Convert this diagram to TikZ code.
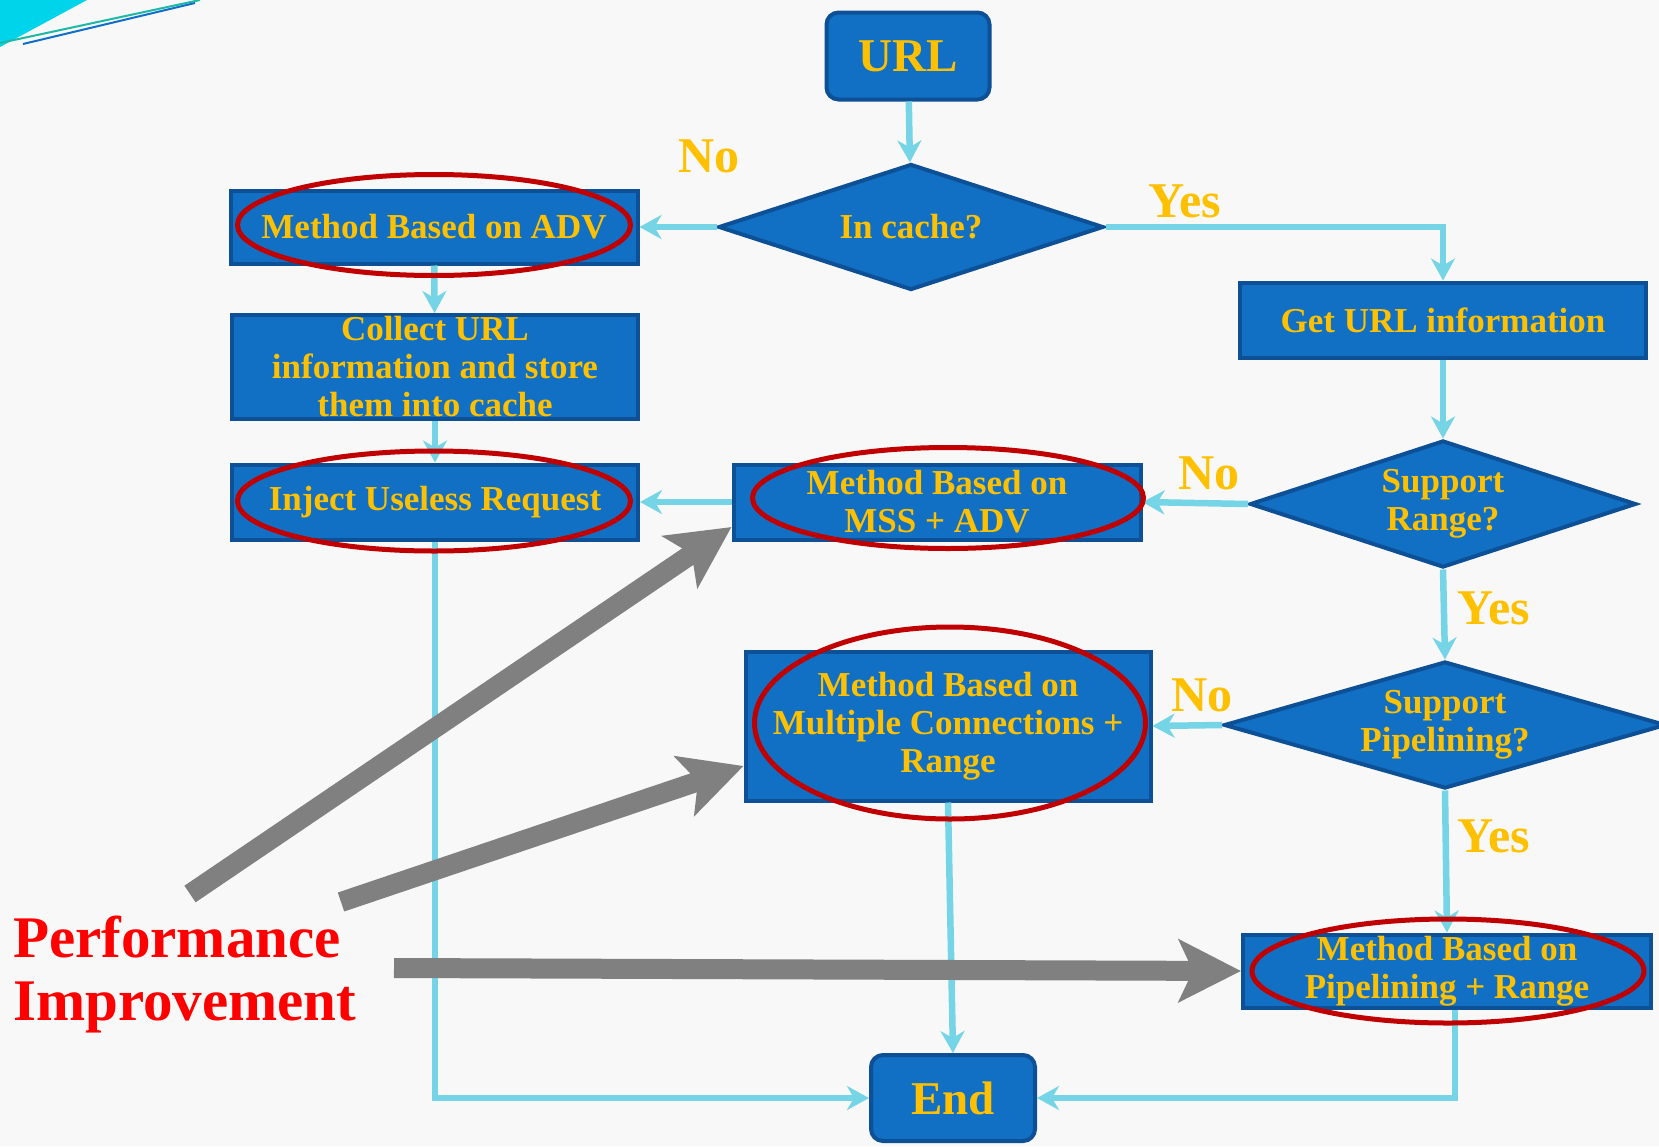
\documentclass[tikz,border=0pt]{standalone}
\usepackage{fontspec}
\setmainfont{Liberation Serif}
\usetikzlibrary{shapes.geometric, arrows.meta}
\definecolor{boxblue}{RGB}{17,112,196}
\definecolor{edgeblue}{RGB}{13,80,150}
\definecolor{labelgold}{RGB}{255,192,0}
\definecolor{flowcyan}{RGB}{117,213,230}
\definecolor{ringred}{RGB}{192,0,0}
\definecolor{hintgray}{RGB}{128,128,128}
\definecolor{perfred}{RGB}{255,0,0}
\definecolor{paper}{RGB}{248,248,248}
\definecolor{swooshcyan}{RGB}{0,212,235}
\definecolor{swooshteal}{RGB}{30,185,165}

\begin{document}
\begin{tikzpicture}[
    x=1pt, y=-1pt,
    every node/.style={font=\bfseries},
    process/.style={rectangle, draw=edgeblue, fill=boxblue, line width=4pt,
                    text=labelgold, align=center, inner sep=0pt,
                    font=\fontsize{35}{38}\selectfont\bfseries},
    terminal/.style={process, rounded corners=12pt,
                     font=\fontsize{47}{52}\selectfont\bfseries},
    decision/.style={diamond, aspect=3.4, draw=edgeblue, fill=boxblue, line width=4pt,
                     text=labelgold, align=center, inner sep=0pt,
                     font=\fontsize{35}{38}\selectfont\bfseries},
    ring/.style={ellipse, draw=ringred, line width=5pt, inner sep=0pt},
    answer/.style={text=labelgold, inner sep=0pt, font=\fontsize{50}{55}\selectfont\bfseries},
    flow/.style={-{Stealth[length=22pt, width=24pt, inset=7pt]}, draw=flowcyan, line width=6.5pt},
    boost/.style={-{Stealth[length=62pt, width=62pt, inset=14pt]}, draw=hintgray, line width=20pt}
]

% Page
\fill [paper] (0,0) rectangle (1659,1146);
\useasboundingbox (0,0) rectangle (1659,1146);
\fill [swooshcyan] (0,0) -- (87,0) -- (0,47) -- cycle;
\draw [swooshteal, line width=2pt] (0,43) -- (200,0);
\draw [swooshteal!60!blue, line width=2pt] (23,44) -- (195,3);

% Start and end
\node (url) [terminal, minimum width=163pt, minimum height=87pt] at (908,56) {URL};
\node (end) [terminal, minimum width=164pt, minimum height=86pt] at (953,1098) {End};

% Decisions
\node (cache) [decision, minimum width=385pt, minimum height=126pt] at (911,227) {In cache?};
\node (range) [decision, minimum width=386pt, minimum height=127pt] at (1443,504) {Support\\Range?};
\node (pipe) [decision, minimum width=442pt, minimum height=127pt] at (1445,725) {Support\\Pipelining?};

% Methods
\node (adv) [process, minimum width=407pt, minimum height=73pt] at (434,227) {Method Based on ADV};
\node (collect) [process, minimum width=406pt, minimum height=104pt] at (435,367)
    {Collect URL\\information and store\\them into cache};
\node (inject) [process, minimum width=406pt, minimum height=75pt] at (435,502) {Inject Useless Request};
\node (getinfo) [process, minimum width=406pt, minimum height=75pt] at (1443,320) {Get URL information};
\node (mss) [process, minimum width=407pt, minimum height=75pt] at (937,502) {Method Based on\\MSS + ADV};
\node (multi) [process, minimum width=405pt, minimum height=149pt] at (948,726)
    {Method Based on\\Multiple Connections +\\Range};
\node (piprange) [process, minimum width=408pt, minimum height=73pt] at (1447,971)
    {Method Based on\\Pipelining + Range};

% Branch labels
\node (nocache) [answer] at (709,156) {No};
\node (yescache) [answer] at (1185,201) {Yes};
\node (norange) [answer] at (1209,473) {No};
\node (yesrange) [answer] at (1494,608) {Yes};
\node (nopipe) [answer] at (1202,695) {No};
\node (yespipe) [answer] at (1494,836) {Yes};

% Flow
\draw [flow] (url) -- (cache);
\draw [flow] (cache.west) -- (adv.east);
\draw [flow] (cache.east) -| (getinfo.north);
\draw [flow] (adv) -- (collect);
\draw [flow] (collect) -- (inject);
\draw [flow] (getinfo) -- (range);
\draw [flow] (range.west) -- (mss.east);
\draw [flow] (mss.west) -- (inject.east);
\draw [flow] (range.south) -- (pipe.north);
\draw [flow] (pipe.west) -- (multi.east);
\draw [flow] (pipe.south) -- (piprange.north);
\draw [flow] (multi.south) -- (end.north);
\draw [flow] (inject.south) |- (end.west);
\draw [flow] ([xshift=8pt]piprange.south) |- (end.east);

% Highlights
\node (advring) [ring, minimum width=393pt, minimum height=101pt] at (434,225) {};
\node (injectring) [ring, minimum width=393pt, minimum height=100pt] at (434,501) {};
\node (mssring) [ring, minimum width=391pt, minimum height=101pt] at (948,498) {};
\node (multiring) [ring, minimum width=391pt, minimum height=192pt] at (950,723) {};
\node (pipring) [ring, minimum width=392pt, minimum height=104pt] at (1448,971) {};

% Performance improvement
\node (perf) [text=perfred, align=left, anchor=west, inner sep=0pt,
              font=\fontsize{59}{63}\selectfont\bfseries] at (13,974) {Performance\\Improvement};
\coordinate (boostA) at (190,894);
\coordinate (boostB) at (341,902);
\coordinate (boostC) at (394,968);
\draw [boost] (boostA) -- ([yshift=-25pt]mss.west);
\draw [boost] (boostB) -- ([yshift=-40pt]multi.west);
\draw [boost] (boostC) -- (piprange.west);

\end{tikzpicture}
\end{document}
